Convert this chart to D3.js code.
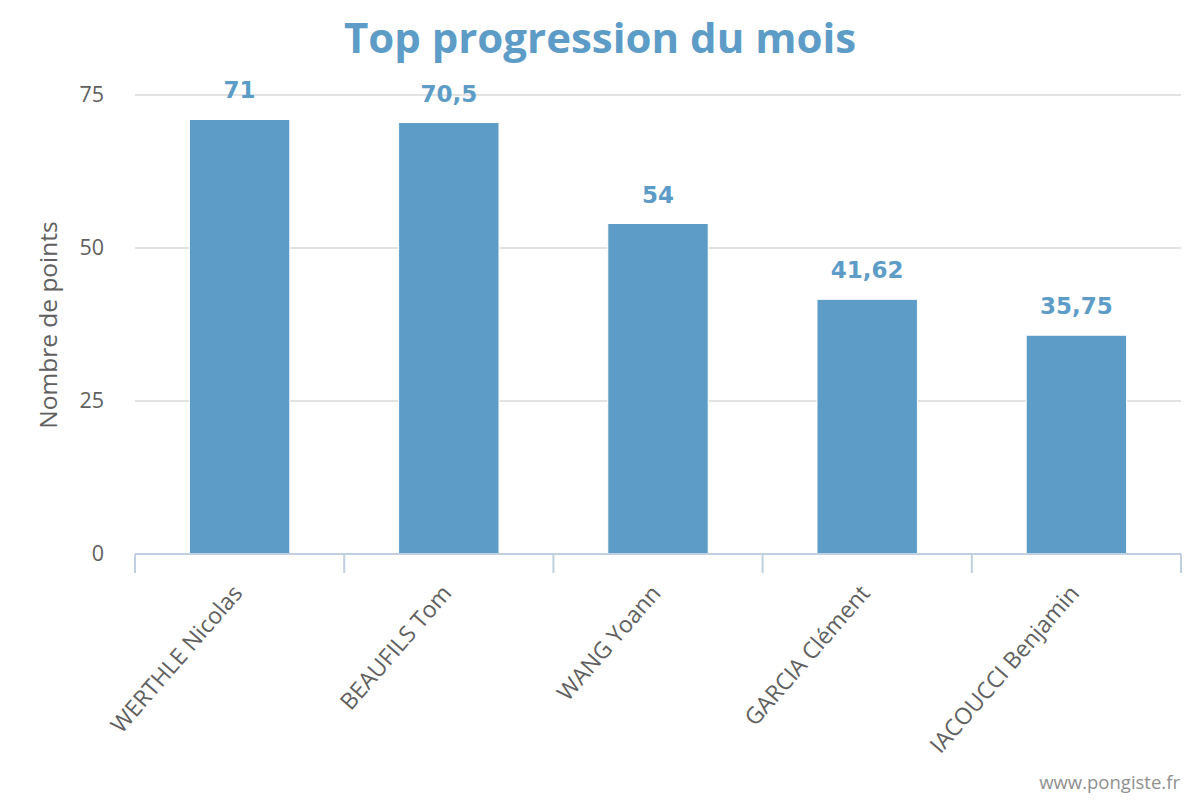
<!DOCTYPE html>
<html><head><meta charset="utf-8">
<script src="https://cdn.jsdelivr.net/npm/d3@7"></script>
<style>body{margin:0;background:#fff;} svg{display:block;}</style>
</head><body>
<svg id="c" width="1200" height="800"></svg>
<script>
const categories = ["WERTHLE Nicolas","BEAUFILS Tom","WANG Yoann","GARCIA Clément","IACOUCCI Benjamin"];
const values = [71, 70.5, 54, 41.62, 35.75];
const valueLabels = ["71","70,5","54","41,62","35,75"];
const yTicks = [0, 25, 50, 75];
const titleText = "Top progression du mois";
const yTitle = "Nombre de points";
const credits = "www.pongiste.fr";

(function(){
const svg = d3.select("#c");
const pLeft = 135, pRight = 1181, pTop = 95, pBottom = 554;
const blue = "#5c9cc7";
const font = "'Open Sans', sans-serif";

const x = d3.scaleBand().domain(categories).range([pLeft, pRight]).paddingInner(0.52).paddingOuter(0.26);
const y = d3.scaleLinear().domain([0, 75]).range([pBottom, pTop]);

// gridlines
svg.append("g").selectAll("line").data(yTicks.filter(d => d > 0)).join("line")
  .attr("x1", pLeft).attr("x2", pRight)
  .attr("y1", d => y(d)).attr("y2", d => y(d))
  .attr("stroke", "#d8d8d8").attr("stroke-width", 1.5);

// y axis labels
const yAxis = d3.axisLeft(y).tickValues(yTicks).tickSize(0).tickPadding(0).tickFormat(d3.format("d"));
const yg = svg.append("g").attr("transform", `translate(${pLeft - 31},0)`).call(yAxis);
yg.select(".domain").remove();
yg.selectAll("text").attr("font-family", font).attr("font-size", 21.5).attr("fill", "#606060").attr("dy", "0.32em");

// bars
svg.append("g").selectAll("rect").data(values).join("rect")
  .attr("x", (d, i) => x(categories[i]))
  .attr("width", x.bandwidth())
  .attr("y", d => y(d))
  .attr("height", d => y(0) - y(d))
  .attr("fill", blue)
  .attr("stroke", "#fff").attr("stroke-width", 1);

// x axis
const xTickScale = d3.scaleLinear().domain([0, categories.length]).range([pLeft, pRight]);
const xg = svg.append("g");
xg.append("line").attr("x1", pLeft).attr("x2", pRight).attr("y1", pBottom).attr("y2", pBottom)
  .attr("stroke", "#c0d0e0").attr("stroke-width", 2);
xg.selectAll("line.tick").data(d3.range(categories.length + 1)).join("line").attr("class", "tick")
  .attr("x1", d => xTickScale(d)).attr("x2", d => xTickScale(d))
  .attr("y1", pBottom).attr("y2", pBottom + 19)
  .attr("stroke", "#c0d0e0").attr("stroke-width", 2);
xg.selectAll("text").data(categories).join("text")
  .attr("transform", d => `translate(${x(d) + x.bandwidth() / 2 + 4},${pBottom + 40}) rotate(-49)`)
  .attr("text-anchor", "end")
  .attr("font-family", font).attr("font-size", 23).attr("fill", "#606060")
  .text(d => d);

// data labels
svg.append("g").selectAll("text").data(values).join("text")
  .attr("x", (d, i) => x(categories[i]) + x.bandwidth() / 2)
  .attr("y", d => y(d) - 21)
  .attr("text-anchor", "middle")
  .attr("font-family", "'DejaVu Sans', sans-serif").attr("font-weight", "bold")
  .attr("font-size", 23).attr("fill", blue)
  .text((d, i) => valueLabels[i]);

// title
svg.append("text").attr("x", 600).attr("y", 53).attr("text-anchor", "middle")
  .attr("font-family", font).attr("font-weight", "bold").attr("font-size", 42)
  .attr("fill", blue).text(titleText);

// y title
svg.append("text").attr("transform", "translate(57,325) rotate(-90)")
  .attr("text-anchor", "middle").attr("font-family", font).attr("font-size", 24.5)
  .attr("fill", "#606060").text(yTitle);

// credits
svg.append("text").attr("x", 1180).attr("y", 789).attr("text-anchor", "end")
  .attr("font-family", font).attr("font-size", 18.5).attr("fill", "#909090").text(credits);
})();
</script>
</body></html>
